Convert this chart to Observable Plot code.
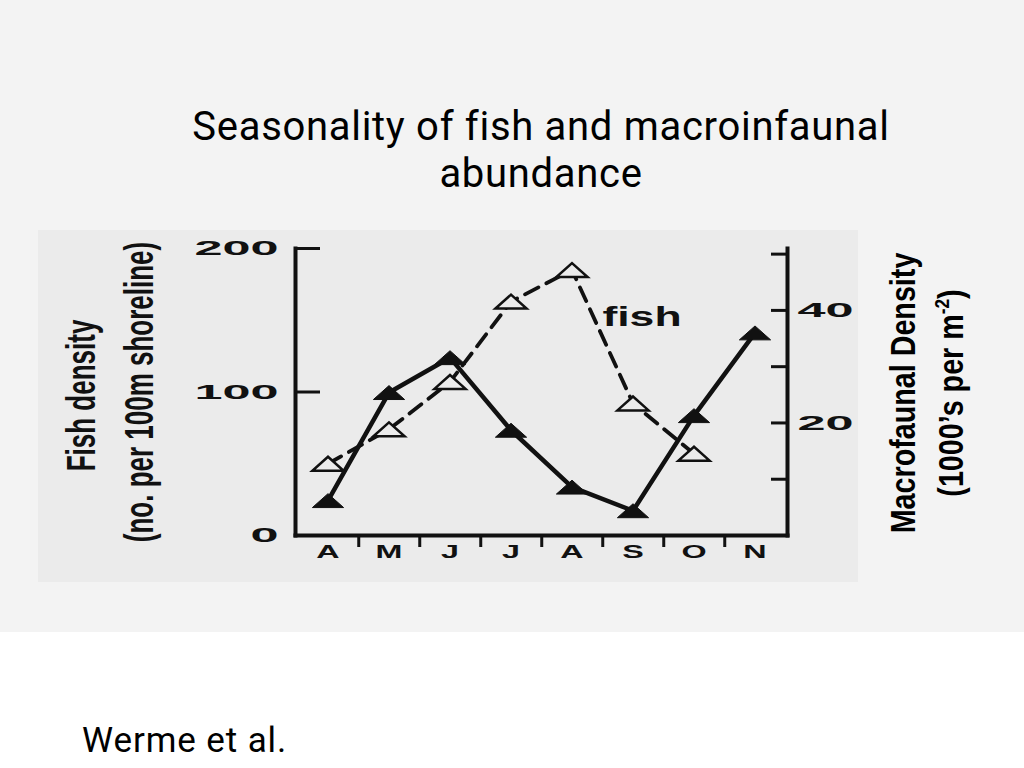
<!DOCTYPE html>
<html><head><meta charset="utf-8">
<script src="https://cdn.jsdelivr.net/npm/d3@7"></script>
<script src="https://cdn.jsdelivr.net/npm/@observablehq/plot@0.6"></script>
<style>
html,body{margin:0;padding:0;background:#fff;width:1024px;height:768px;overflow:hidden;}
#slide{position:absolute;left:0;top:0;width:1024px;height:632px;background:#f3f3f3;}
#title{position:absolute;left:141px;top:103px;width:800px;text-align:center;font-family:Roboto,sans-serif;font-size:40px;line-height:47px;letter-spacing:0.7px;color:#000;white-space:nowrap;}
#chart{position:absolute;left:38px;top:230px;}
#rlabel{position:absolute;left:727px;top:345px;width:400px;height:96px;text-align:center;font-family:"Liberation Sans",Arial,sans-serif;font-weight:bold;font-size:35px;line-height:48px;color:#000;white-space:nowrap;transform:rotate(-90deg) scaleX(0.82);transform-origin:50% 50%;}
#rlabel .sup{font-size:0.6em;vertical-align:0.65em;line-height:0;}
#caption{position:absolute;left:82px;top:721px;font-family:Roboto,sans-serif;font-size:35px;line-height:40px;letter-spacing:0.9px;color:#000;white-space:nowrap;}
</style></head>
<body>
<div id="slide"></div>
<div id="title">Seasonality of fish and macroinfaunal<br>abundance</div>
<div id="chart"></div>
<div id="rlabel"><div>Macrofaunal Density</div><div>(1000’s per m<span class="sup">-2</span>)</div></div>
<div id="caption">Werme et al.</div>
<script>
// ---- data ----
const months = ["Apr","May","Jun","Jul","Aug","Sep","Oct","Nov"];
const monthLetters = ["A","M","J","J","A","S","O","N"];
const fishDensity = [50, 74, 107, 163, 185, 92, 57, null];      // no. per 100 m shoreline
const macroDensity = [6.2, 25.4, 31.6, 18.7, 8.6, 4.4, 21.3, 36]; // 1000's per m^2
const fishTicks = [0, 100, 200];
const macroTicks = [10, 20, 30, 40, 50];
const macroLabelTicks = [20, 40];
const yTitleLine1 = ["Fish density"];
const yTitleLine2 = ["(no. per 100m shoreline)"];
const fishLabel = [{month: "Sep", value: 152, text: "fish"}];
const macroMax = 51;   // right-axis value aligned with fish = 200
const fishMax = 200;

const k = fishMax / macroMax;
const data = months.map((m, i) => ({month: m, fish: fishDensity[i], macro: macroDensity[i]}));

const W = 820, H = 352, mL = 257, mR = 71, mT = 18, mB = 47;
const bw = (W - mL - mR) / months.length;
const ink = "#111";
const paper = "#ebebeb";

const flatTriangle = {
  draw(ctx, size) {
    const r = Math.sqrt(size / Math.PI);
    const w = r * 1.3, h = r * 0.58;
    ctx.moveTo(0, -h); ctx.lineTo(w, h); ctx.lineTo(-w, h); ctx.closePath();
  }
};

const chart = Plot.plot({
  width: W, height: H,
  marginLeft: mL, marginRight: mR, marginTop: mT, marginBottom: mB,
  style: {background: paper, fontFamily: "Liberation Sans, Arial, sans-serif", color: ink, overflow: "visible"},
  x: {type: "band", domain: months, padding: 0, axis: null},
  y: {domain: [0, fishMax], axis: null},
  marks: [
    Plot.frame({anchor: "left", stroke: ink, strokeWidth: 4}),
    Plot.frame({anchor: "right", stroke: ink, strokeWidth: 4}),
    Plot.frame({anchor: "bottom", stroke: ink, strokeWidth: 4}),
    Plot.axisY({anchor: "left", label: null, ticks: fishTicks, tickSize: -25, tickPadding: 42, strokeWidth: 3, fontSize: 21, fontWeight: "bold"}),
    Plot.axisY({anchor: "right", label: null, ticks: macroTicks.map(d => d * k), tickSize: -17, tickFormat: () => "", strokeWidth: 3}),
    Plot.axisY({anchor: "right", label: null, ticks: macroLabelTicks.map(d => d * k), tickSize: 0, tickPadding: 10, tickFormat: d => String(Math.round(d / k)), fontSize: 21, fontWeight: "bold"}),
    Plot.axisX({anchor: "bottom", label: null, ticks: months.slice(0, months.length - 1), tickSize: 12, tickFormat: () => "", dx: bw / 2, strokeWidth: 3}),
    Plot.axisX({anchor: "bottom", label: null, tickSize: 0, tickPadding: 9, tickFormat: d => monthLetters[months.indexOf(d)], fontSize: 19, fontWeight: "bold"}),
    Plot.text(yTitleLine1, {text: d => d, frameAnchor: "left", textAnchor: "middle", rotate: -90, dx: -213.5, dy: 3.5, fontSize: 26, fontWeight: "bold", fill: ink}),
    Plot.text(yTitleLine2, {text: d => d, frameAnchor: "left", textAnchor: "middle", rotate: -90, dx: -155, dy: 0, fontSize: 26, fontWeight: "bold", fill: ink}),
    Plot.line(data, {x: "month", y: "fish", stroke: ink, strokeWidth: 3.8, strokeDasharray: "15,9"}),
    Plot.line(data, {x: "month", y: d => d.macro * k, stroke: ink, strokeWidth: 4.5}),
    Plot.dot(data, {x: "month", y: "fish", symbol: flatTriangle, r: 12, fill: paper, stroke: ink, strokeWidth: 2.5}),
    Plot.dot(data, {x: "month", y: d => d.macro * k, symbol: flatTriangle, r: 12, fill: ink, stroke: ink, strokeWidth: 1}),
    Plot.text(fishLabel, {x: "month", y: "value", text: "text", dx: 9, fontSize: 27, fontWeight: "bold", fill: ink})
  ]
});
document.getElementById("chart").appendChild(chart);

// horizontal stretch of the scanned lettering
function stretchEl(el, sx) {
  const t = el.getAttribute("transform") || "";
  if (t.includes("rotate(")) el.setAttribute("transform", t.replace("rotate(", `scale(${sx},1) rotate(`));
  else el.setAttribute("transform", t + ` scale(${sx},1)`);
}
chart.querySelectorAll('g[aria-label="y-axis tick label"] text').forEach(el => stretchEl(el, 2.4));
chart.querySelectorAll('g[aria-label="x-axis tick label"] text').forEach(el => stretchEl(el, 1.7));
chart.querySelectorAll('g[aria-label="text"] text').forEach(el => {
  const s = el.textContent;
  if (fishLabel.some(d => d.text === s)) stretchEl(el, 1.65);
  else stretchEl(el, 1.55);
});
</script>
</body></html>
